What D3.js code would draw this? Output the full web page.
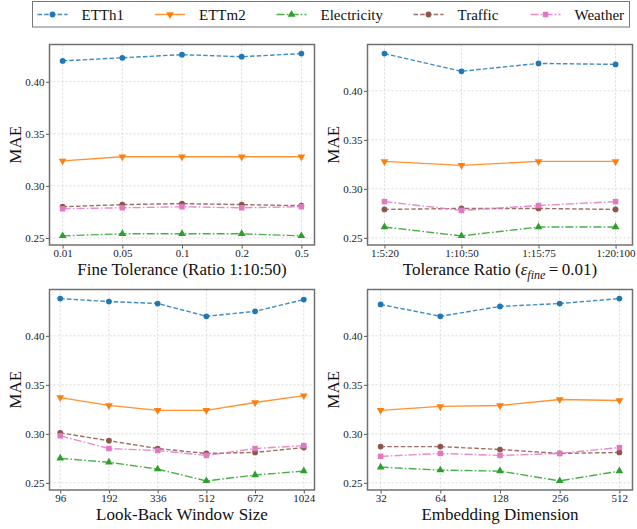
<!DOCTYPE html>
<html>
<head>
<meta charset="utf-8">
<script src="https://cdn.jsdelivr.net/npm/d3@7"></script>
<style>
  body { margin: 0; background: #fff; }
</style>
</head>
<body>
<svg id="chart" width="637" height="529"></svg>
<script>
(function() {
  'use strict';

  var FONT = 'Liberation Serif, Times New Roman, serif';

  // series names and their drawing style
  var seriesNames = ['ETTh1', 'ETTm2', 'Electricity', 'Traffic', 'Weather'];
  var seriesColors = ['#1f77b4', '#ff7f0e', '#2ca02c', '#8c564b', '#e377c2'];
  var seriesDash = ['4.5,2.2', null, '8,2.2,1.6,2.2', '4.5,2.2', '8,2.2,1.6,2.2'];
  var seriesMarker = ['circle', 'triangle-down', 'triangle', 'circle', 'square'];

  // panel 1: fine tolerance
  var tolLabels = ['0.01', '0.05', '0.1', '0.2', '0.5'];
  var tolValues = [
    [0.420, 0.423, 0.426, 0.424, 0.427],
    [0.324, 0.328, 0.328, 0.328, 0.328],
    [0.252, 0.254, 0.254, 0.254, 0.252],
    [0.280, 0.282, 0.283, 0.282, 0.281],
    [0.278, 0.279, 0.280, 0.279, 0.280]
  ];

  // panel 2: tolerance ratio
  var ratioLabels = ['1:5:20', '1:10:50', '1:15:75', '1:20:100'];
  var ratioValues = [
    [0.438, 0.420, 0.428, 0.427],
    [0.328, 0.324, 0.328, 0.328],
    [0.261, 0.252, 0.261, 0.261],
    [0.279, 0.280, 0.280, 0.279],
    [0.287, 0.278, 0.283, 0.287]
  ];

  // panel 3: look-back window
  var lookbackLabels = ['96', '192', '336', '512', '672', '1024'];
  var lookbackValues = [
    [0.438, 0.435, 0.433, 0.420, 0.425, 0.437],
    [0.337, 0.329, 0.324, 0.324, 0.332, 0.339],
    [0.275, 0.271, 0.264, 0.252, 0.258, 0.262],
    [0.301, 0.293, 0.285, 0.280, 0.281, 0.286],
    [0.298, 0.285, 0.283, 0.278, 0.285, 0.288]
  ];

  // panel 4: embedding dimension
  var embedLabels = ['32', '64', '128', '256', '512'];
  var embedValues = [
    [0.432, 0.420, 0.430, 0.433, 0.438],
    [0.324, 0.328, 0.329, 0.335, 0.334],
    [0.266, 0.263, 0.262, 0.252, 0.262],
    [0.287, 0.287, 0.284, 0.280, 0.281],
    [0.277, 0.280, 0.278, 0.280, 0.286]
  ];

  var yTicks = [0.25, 0.30, 0.35, 0.40];

  var panels = [
    { x: 49.5, y: 44.5, labels: tolLabels, values: tolValues, xlabel: 'Fine Tolerance (Ratio 1:10:50)' },
    { x: 367.5, y: 44.5, labels: ratioLabels, values: ratioValues, xlabel: 'ratio' },
    { x: 49.5, y: 289.5, labels: lookbackLabels, values: lookbackValues, xlabel: 'Look-Back Window Size' },
    { x: 367.5, y: 289.5, labels: embedLabels, values: embedValues, xlabel: 'Embedding Dimension' }
  ];
  var pw = 265, ph = 200.5;

  var svg = d3.select('#chart');
  var root = svg.append('g').attr('font-family', FONT);

  var symbolFor = function(name) {
    if (name === 'circle') return d3.symbol().type(d3.symbolCircle).size(26);
    if (name === 'square') return d3.symbol().type(d3.symbolSquare).size(30);
    return d3.symbol().type(d3.symbolTriangle).size(26);
  };

  var drawMarker = function(g, i, cx, cy) {
    var m = seriesMarker[i];
    var rot = m === 'triangle-down' ? ' rotate(180)' : '';
    g.append('path')
      .attr('d', symbolFor(m)())
      .attr('transform', 'translate(' + cx + ',' + cy + ')' + rot)
      .attr('fill', seriesColors[i]);
  };

  panels.forEach(function(p) {
    var all = [].concat.apply([], p.values);
    var lo = d3.min(all), hi = d3.max(all), pad = (hi - lo) * 0.05;
    var n = p.labels.length;

    var x = d3.scaleLinear().domain([-0.22, n - 1 + 0.22]).range([0, pw]);
    var y = d3.scaleLinear().domain([lo - pad, hi + pad]).range([ph, 0]);

    var g = root.append('g').attr('transform', 'translate(' + p.x + ',' + p.y + ')');

    // grid
    g.append('g').selectAll('line').data(d3.range(n)).enter().append('line')
      .attr('x1', function(d) { return x(d); }).attr('x2', function(d) { return x(d); })
      .attr('y1', 0).attr('y2', ph)
      .attr('stroke', '#d0d0d0').attr('stroke-width', 0.8).attr('stroke-dasharray', '2,2');
    g.append('g').selectAll('line').data(yTicks).enter().append('line')
      .attr('y1', function(d) { return y(d); }).attr('y2', function(d) { return y(d); })
      .attr('x1', 0).attr('x2', pw)
      .attr('stroke', '#d0d0d0').attr('stroke-width', 0.8).attr('stroke-dasharray', '2,2');

    // axes
    var xAxis = d3.axisBottom(x).tickValues(d3.range(n))
      .tickFormat(function(d) { return p.labels[d]; }).tickSize(3.5).tickPadding(1);
    var yAxis = d3.axisLeft(y).tickValues(yTicks)
      .tickFormat(d3.format('.2f')).tickSize(3.5).tickPadding(1.5);

    var gx = g.append('g').attr('transform', 'translate(0,' + ph + ')').call(xAxis);
    var gy = g.append('g').call(yAxis);
    [gx, gy].forEach(function(a) {
      a.attr('font-family', FONT).attr('font-size', 11);
      a.select('.domain').remove();
      a.selectAll('line').attr('stroke', '#555');
      a.selectAll('text').attr('fill', '#222');
    });

    // series
    var line = d3.line().x(function(d, j) { return x(j); }).y(function(d) { return y(d); });
    p.values.forEach(function(vals, i) {
      g.append('path').datum(vals)
        .attr('d', line)
        .attr('fill', 'none')
        .attr('stroke', seriesColors[i])
        .attr('stroke-width', 1.4)
        .attr('stroke-opacity', 0.85)
        .attr('stroke-dasharray', seriesDash[i]);
      vals.forEach(function(v, j) { drawMarker(g, i, x(j), y(v)); });
    });

    // frame
    g.append('rect').attr('width', pw).attr('height', ph)
      .attr('fill', 'none').attr('stroke', '#707070').attr('stroke-width', 1.5);

    // labels
    g.append('text')
      .attr('transform', 'translate(-34,' + ph / 2 + ') rotate(-90)')
      .attr('text-anchor', 'middle').attr('dy', '0.35em')
      .attr('font-size', 17).attr('fill', '#111').text('MAE');

    var xl = g.append('text')
      .attr('x', pw / 2).attr('y', ph + 30)
      .attr('text-anchor', 'middle')
      .attr('font-size', 17).attr('fill', '#111');
    if (p.xlabel === 'ratio') {
      xl.append('tspan').text('Tolerance Ratio (');
      xl.append('tspan').attr('font-style', 'italic').text('\u03b5');
      xl.append('tspan').attr('font-style', 'italic').attr('font-size', 12).attr('dy', 3.5).text('fine');
      xl.append('tspan').attr('dy', -3.5).text('\u2009=\u20090.01)');
    } else {
      xl.text(p.xlabel);
    }
  });

  // legend
  var legend = root.append('g');
  legend.append('rect').attr('x', 32.5).attr('y', 1.5).attr('width', 597).attr('height', 25.5)
    .attr('fill', '#fff').attr('stroke', '#777').attr('stroke-width', 1);
  var legendX = [37.5, 155, 276.5, 413.5, 530.5];
  seriesNames.forEach(function(name, i) {
    var lx = legendX[i], ly = 14.5;
    legend.append('line')
      .attr('x1', lx).attr('x2', lx + 30).attr('y1', ly).attr('y2', ly)
      .attr('stroke', seriesColors[i]).attr('stroke-width', 1.4).attr('stroke-opacity', 0.85)
      .attr('stroke-dasharray', seriesDash[i]);
    drawMarker(legend, i, lx + 15, ly);
    legend.append('text').attr('x', lx + 44).attr('y', ly).attr('dy', '0.35em')
      .attr('font-size', 15).attr('fill', '#111').text(name);
  });
})();
</script>
</body>
</html>
